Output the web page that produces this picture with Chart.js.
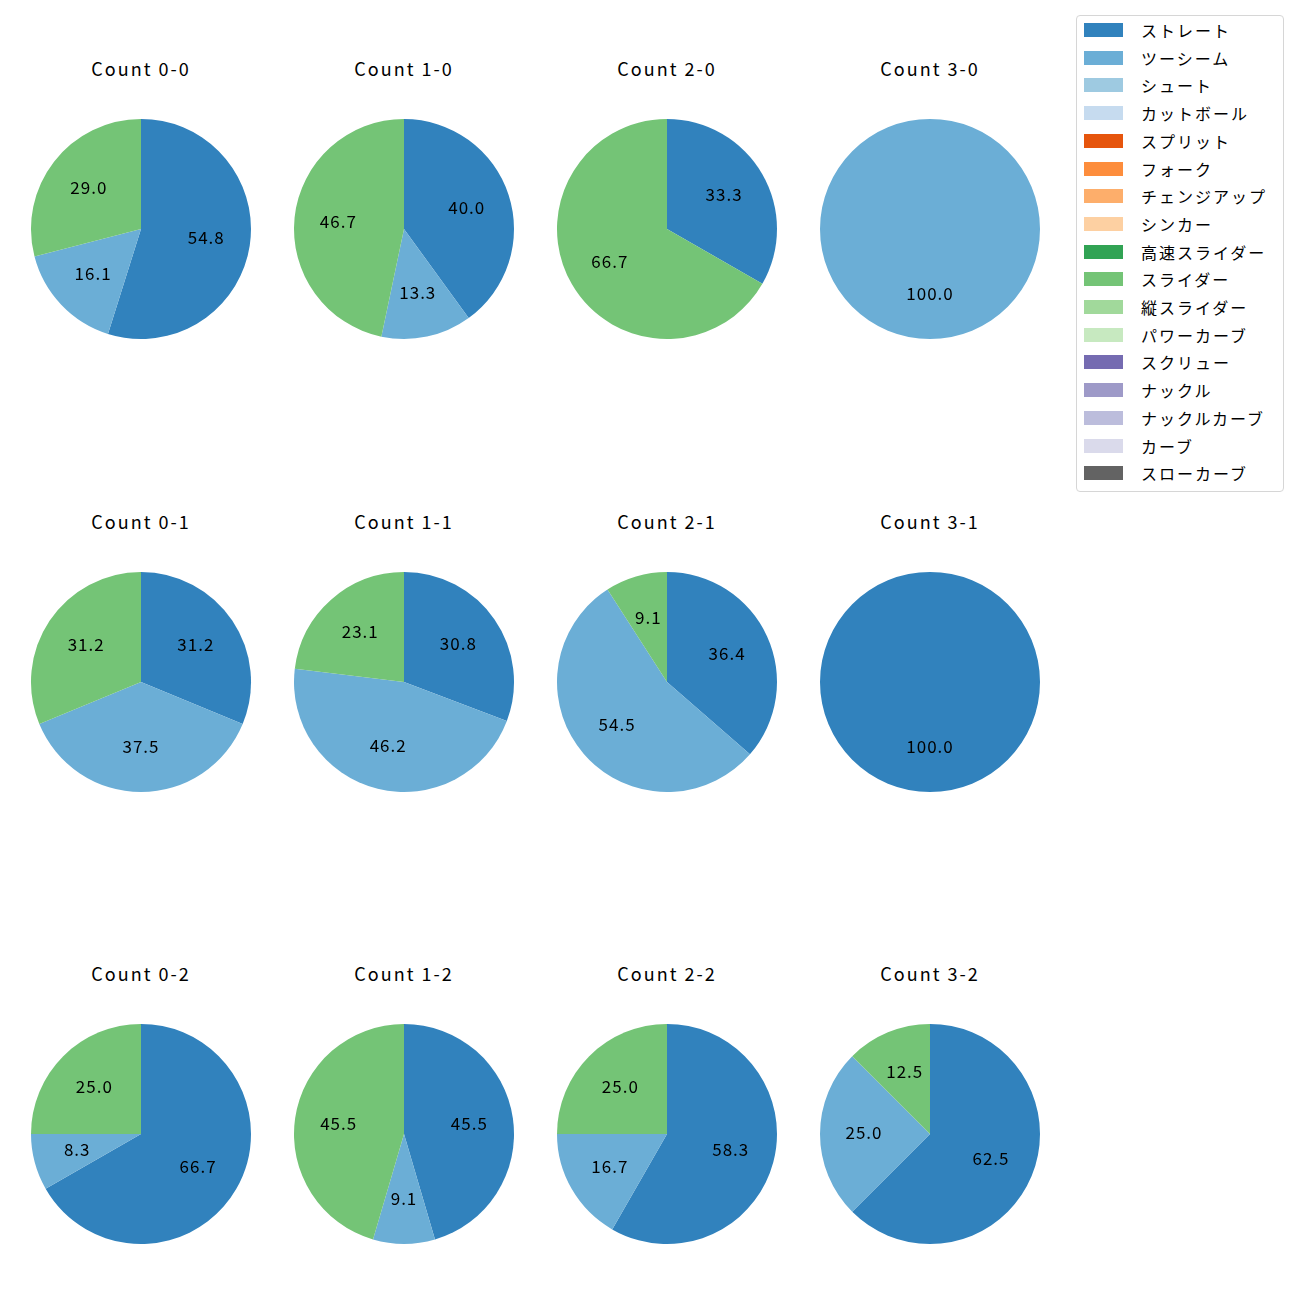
<!DOCTYPE html>
<html>
<head>
<meta charset="utf-8">
<script src="https://cdn.jsdelivr.net/npm/chart.js@4"></script>
<style>
  body { margin: 0; background: #fff; font-family: "Noto Sans CJK JP", "DejaVu Sans", sans-serif; }
  #wrap { position: relative; width: 1300px; height: 1300px; }
  .title { position: absolute; width: 240px; text-align: center; font-size: 18px; letter-spacing: 2px; color: #000; line-height: 20px; }
  .pie { position: absolute; }
  #legend { position: absolute; left: 1076px; top: 15px; width: 208px; height: 477px; border: 1px solid #d6d6d6; border-radius: 4px; box-sizing: border-box; }
  .item { position: absolute; left: 7px; height: 20px; font-size: 16px; line-height: 20px; color: #000; }
  .item span.box { position: absolute; left: 0; top: 3px; width: 39px; height: 14px; }
  .item span.txt { position: absolute; left: 57px; white-space: nowrap; letter-spacing: 2px; }
</style>
</head>
<body>
<div id="wrap"><div id="legend"></div></div>
<script>
// pitch types and colours (legend order)
const pitchTypes = ["ストレート", "ツーシーム", "シュート", "カットボール", "スプリット", "フォーク",
  "チェンジアップ", "シンカー", "高速スライダー", "スライダー", "縦スライダー", "パワーカーブ",
  "スクリュー", "ナックル", "ナックルカーブ", "カーブ", "スローカーブ"];
const pitchColors = ["#3182bd", "#6baed6", "#9ecae1", "#c6dbef", "#e6550d", "#fd8d3c",
  "#fdae6b", "#fdd0a2", "#31a354", "#74c476", "#a1d99b", "#c7e9c0",
  "#756bb1", "#9e9ac8", "#bcbddc", "#dadaeb", "#636363"];

// counts in grid order: rows = strikes 0..2, columns = balls 0..3
const countLabels = ["Count 0-0", "Count 1-0", "Count 2-0", "Count 3-0",
  "Count 0-1", "Count 1-1", "Count 2-1", "Count 3-1",
  "Count 0-2", "Count 1-2", "Count 2-2", "Count 3-2"];

// share (%) of each pitch per count
const straight = [54.8, 40.0, 33.3, 0, 31.2, 30.8, 36.4, 100, 66.7, 45.5, 58.3, 62.5];
const twoSeam  = [16.1, 13.3, 0, 100, 37.5, 46.2, 54.5, 0, 8.3, 9.1, 16.7, 25.0];
const slider   = [29.0, 46.7, 66.7, 0, 31.2, 23.1, 9.1, 0, 25.0, 45.5, 25.0, 12.5];

const usedTypes = ["ストレート", "ツーシーム", "スライダー"];
const usedSeries = [straight, twoSeam, slider];

const colX = [141, 404, 667, 930];
const rowY = [229, 682, 1134];
const size = 240;

// legend
const legend = document.getElementById("legend");
pitchTypes.forEach((name, i) => {
  const d = document.createElement("div");
  d.className = "item";
  d.style.top = (4 + i * 27.7) + "px";
  d.innerHTML = '<span class="box" style="background:' + pitchColors[i] + '"></span><span class="txt">' + name + '</span>';
  legend.appendChild(d);
});

// percentage labels at 0.6 of the radius
const pctLabels = {
  id: "pctLabels",
  afterDatasetsDraw(chart) {
    const ctx = chart.ctx;
    const meta = chart.getDatasetMeta(0);
    const vals = chart.data.datasets[0].data;
    ctx.save();
    ctx.fillStyle = "#000";
    ctx.font = '17px "Noto Sans CJK JP", "DejaVu Sans", sans-serif';
    ctx.letterSpacing = "1px";
    ctx.textAlign = "center";
    ctx.textBaseline = "middle";
    meta.data.forEach((arc, i) => {
      if (!vals[i]) return;
      const p = arc.getProps(["x", "y", "startAngle", "endAngle", "outerRadius"], true);
      const mid = (p.startAngle + p.endAngle) / 2;
      const r = p.outerRadius * 0.6;
      ctx.fillText(vals[i].toFixed(1), p.x + Math.cos(mid) * r, p.y + Math.sin(mid) * r - 1);
    });
    ctx.restore();
  }
};

const wrap = document.getElementById("wrap");
countLabels.forEach((label, k) => {
  const cx = colX[k % 4], cy = rowY[Math.floor(k / 4)];

  const t = document.createElement("div");
  t.className = "title";
  t.style.left = (cx - size / 2) + "px";
  t.style.top = (cy - 171) + "px";
  t.textContent = label;
  wrap.appendChild(t);

  const c = document.createElement("canvas");
  c.className = "pie";
  c.width = size; c.height = size;
  c.style.left = (cx - size / 2) + "px";
  c.style.top = (cy - size / 2) + "px";
  c.style.width = size + "px"; c.style.height = size + "px";
  wrap.appendChild(c);

  new Chart(c.getContext("2d"), {
    type: "pie",
    data: {
      labels: usedTypes,
      datasets: [{
        data: usedSeries.map(s => s[k]),
        backgroundColor: usedTypes.map(n => pitchColors[pitchTypes.indexOf(n)]),
        borderWidth: 0
      }]
    },
    options: {
      responsive: false,
      animation: false,
      layout: { padding: 10 },
      plugins: { legend: { display: false }, tooltip: { enabled: false } }
    },
    plugins: [pctLabels]
  });
});
</script>
</body>
</html>
